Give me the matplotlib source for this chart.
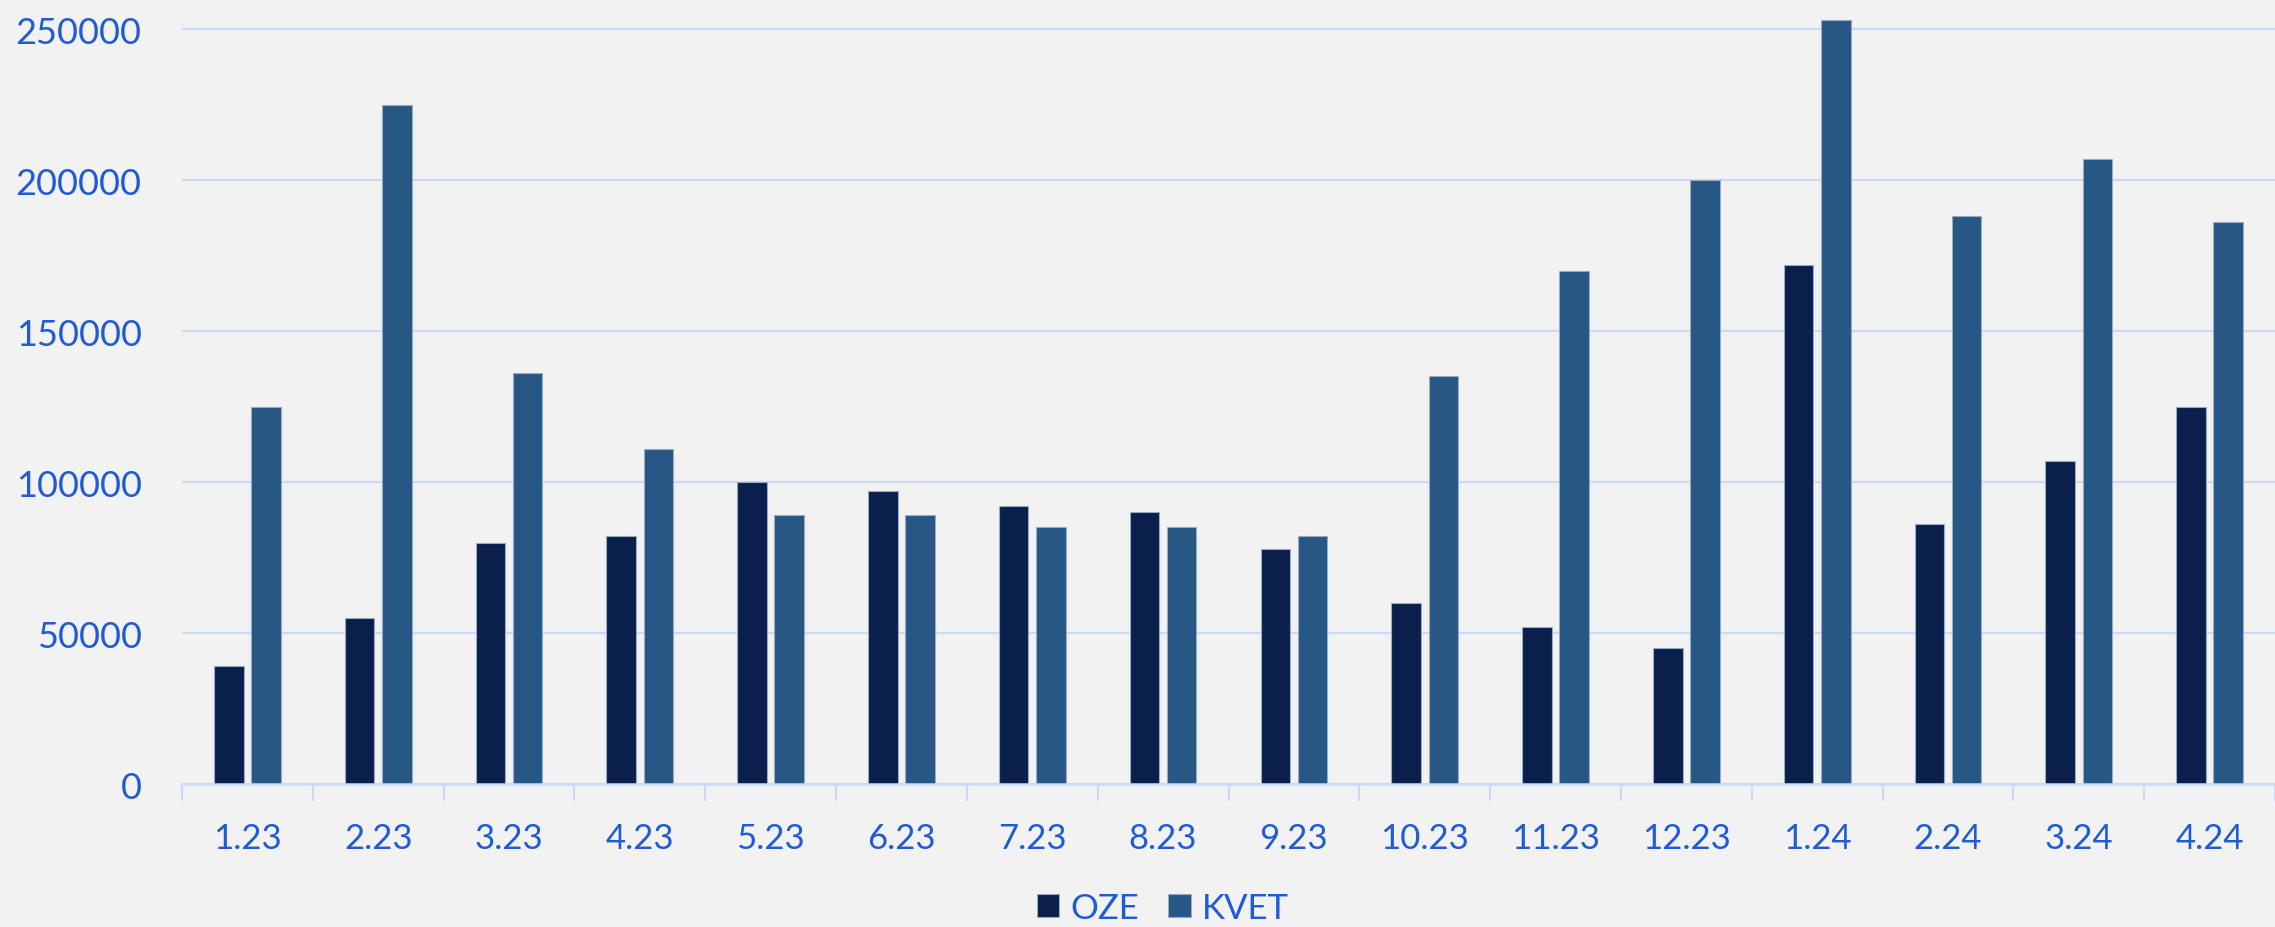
import numpy as np
import matplotlib.pyplot as plt

# monthly values
months = ["1.23", "2.23", "3.23", "4.23", "5.23", "6.23", "7.23", "8.23",
          "9.23", "10.23", "11.23", "12.23", "1.24", "2.24", "3.24", "4.24"]
oze = [39000, 55000, 80000, 82000, 100000, 97000, 92000, 90000,
       78000, 60000, 52000, 45000, 172000, 86000, 107000, 125000]
kvet = [125000, 225000, 136000, 111000, 89000, 89000, 85000, 85000,
        82000, 135000, 170000, 200000, 253000, 188000, 207000, 186000]

bg = "#F2F2F2"
txt = "#1F5BD6"
grid_c = "#C9DAF5"

plt.rcParams['font.family'] = ['Lato', 'DejaVu Sans']

fig = plt.figure(figsize=(22.75, 9.28), dpi=100, facecolor=bg)
ax = fig.add_axes([0.08, 0.154, 0.92, 0.846], facecolor=bg)

x = np.arange(len(months))
w = 0.226
ax.bar(x - 0.142, oze, w, color="#0B1F4D", edgecolor="#9AAAC4", linewidth=0.8,
       label="OZE", zorder=3)
ax.bar(x + 0.142, kvet, w, color="#265785", edgecolor="#9AAAC4", linewidth=0.8,
       label="KVET", zorder=3)

ax.set_xlim(-0.5, len(months) - 0.5)
ax.set_ylim(0, 260000)
ax.set_yticks(range(0, 250001, 50000))
ax.tick_params(axis="y", length=0, labelsize=26, labelcolor=txt, pad=29)
ax.set_xticks(x)
ax.set_xticklabels(months)
ax.tick_params(axis="x", which="major", length=0, labelsize=25, labelcolor=txt, pad=27)
ax.set_xticks(np.arange(-0.5, len(months), 1.0), minor=True)
ax.tick_params(axis="x", which="minor", length=12, width=1.5, color=grid_c)

ax.grid(axis="y", color=grid_c, linewidth=1.5, zorder=0)
for s in ["top", "right", "left"]:
    ax.spines[s].set_visible(False)
ax.spines["bottom"].set_color(grid_c)
ax.spines["bottom"].set_linewidth(1.8)
ax.spines["bottom"].set_zorder(4)

fig.legend(loc="lower center", bbox_to_anchor=(0.511, -0.03), ncol=2, frameon=False,
           fontsize=25, labelcolor=txt, handlelength=0.66, handleheight=0.66,
           handletextpad=0.3, columnspacing=0.85)

plt.savefig("out.png", dpi=100, facecolor=bg)
